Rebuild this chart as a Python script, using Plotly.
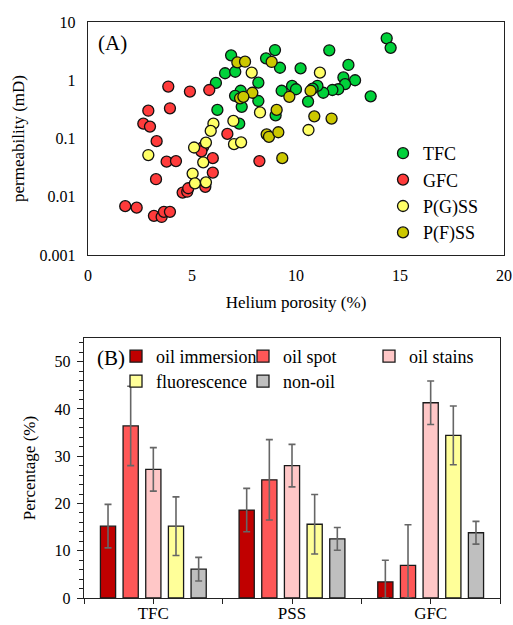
import plotly.graph_objects as go

# ---------------- Panel A data ----------------
tfc_x = [14.36, 14.55, 6.88, 8.99, 8.56, 9.23, 10.22, 11.6, 12.52, 12.84, 12.28, 12.36, 12.03, 11.75,
         11.31, 11.03, 10.8, 13.59, 10.58, 9.81, 10.0, 9.31, 8.19, 8.19, 9.02, 6.59, 7.08, 6.15,
         7.34, 7.07, 7.39, 6.22, 7.27]
tfc_y = [5.25, 3.6, 2.68, 3.3, 2.38, 1.64, 1.6, 3.27, 1.83, 1.0, 1.12, 0.86, 0.70, 0.68,
         0.61, 0.80, 0.72, 0.53, 0.43, 0.80, 0.70, 0.66, 0.91, 0.44, 0.25, 1.32, 1.4, 0.90,
         0.66, 0.54, 0.35, 0.31, 0.18]

gfc_x = [3.86, 4.9, 5.83, 2.9, 3.94, 2.66, 2.98, 3.30, 6.7, 5.54, 5.45, 3.78, 4.23, 6.0,
         8.24, 3.27, 6.0, 4.55, 4.77, 4.82, 5.64, 1.79, 2.34, 3.17, 3.54, 3.65, 3.94]
gfc_y = [0.78, 0.64, 0.68, 0.30, 0.33, 0.18, 0.16, 0.09, 0.12, 0.072, 0.06, 0.040, 0.041, 0.046,
         0.041, 0.020, 0.026, 0.0118, 0.0122, 0.014, 0.0148, 0.0069, 0.0065, 0.0047, 0.0045,
         0.0055, 0.0055]

pgss_x = [7.87, 11.15, 8.27, 6.99, 6.03, 5.9, 5.67, 5.1, 7.02, 7.36, 10.6, 2.9, 5.54, 5.03,
          5.14, 5.67]
pgss_y = [1.35, 1.35, 0.28, 0.20, 0.18, 0.135, 0.085, 0.07, 0.08, 0.086, 0.14, 0.052, 0.039,
          0.025, 0.017, 0.0177]

pfss_x = [7.18, 7.55, 8.83, 7.9, 7.31, 7.47, 10.7, 9.68, 9.07, 10.88, 11.71, 8.59, 8.7, 9.15, 9.34]
pfss_y = [2.03, 2.08, 2.06, 0.61, 0.49, 0.52, 0.66, 0.52, 0.31, 0.24, 0.22, 0.118, 0.107,
          0.128, 0.046]

perm_tickvals = [0.001, 0.01, 0.1, 1, 10]
perm_ticktext = ["0.001", "0.01", "0.1", "1", "10"]

# ---------------- Panel B data ----------------
groups = ["TFC", "PSS", "GFC"]
oil_immersion = [15.2, 18.6, 3.4]
oil_immersion_err = [4.6, 4.6, 4.6]
oil_spot = [36.4, 25.0, 6.9]
oil_spot_err = [8.4, 8.5, 8.6]
oil_stains = [27.2, 28.0, 41.3]
oil_stains_err = [4.6, 4.5, 4.6]
fluorescence = [15.2, 15.6, 34.4]
fluorescence_err = [6.2, 6.3, 6.2]
non_oil = [6.1, 12.5, 13.8]
non_oil_err = [2.5, 2.4, 2.4]

FAM = "Liberation Serif"
W, H = 513, 625


def fnt(size):
    return dict(family=FAM, size=size, color="black")


def px_x(a, b):
    return [a / W, b / W]


def px_y(top, bottom):
    return [1 - bottom / H, 1 - top / H]


fig = go.Figure()

scatter_sets = [
    ("TFC", tfc_x, tfc_y, "#00D13A"),
    ("GFC", gfc_x, gfc_y, "#FF3B3B"),
    ("P(G)SS", pgss_x, pgss_y, "#FFFF66"),
    ("P(F)SS", pfss_x, pfss_y, "#CCC800"),
]
for name, xs, ys, col in scatter_sets:
    fig.add_trace(go.Scatter(
        x=xs, y=ys, mode="markers", name=name, legend="legend",
        marker=dict(size=11, color=col, line=dict(color="#111111", width=1.3)),
        xaxis="x", yaxis="y", cliponaxis=False,
    ))

idx = list(range(len(groups)))
# legend positions (left px, top px) per bar series
bar_sets = [
    ("oil immersion", oil_immersion, oil_immersion_err, "#C00000", "legend2", 116, 338),
    ("oil spot", oil_spot, oil_spot_err, "#FF5757", "legend3", 243, 338),
    ("oil stains", oil_stains, oil_stains_err, "#FFC7C7", "legend4", 369, 338),
    ("fluorescence", fluorescence, fluorescence_err, "#FFFF99", "legend5", 116, 363),
    ("non-oil", non_oil, non_oil_err, "#BFBFBF", "legend6", 243, 363),
]
legend_layouts = {}
for name, vals, errs, col, lg, lx, ly in bar_sets:
    minus = [min(e, v) for e, v in zip(errs, vals)]
    fig.add_trace(go.Bar(
        x=idx, y=vals, name=name, legend=lg,
        marker=dict(color=col, line=dict(color="#1a1a1a", width=1.3)),
        error_y=dict(type="data", array=errs, arrayminus=minus, color="#666666",
                     thickness=1.6, width=3.5),
        xaxis="x2", yaxis="y2",
    ))
    legend_layouts[lg] = dict(x=lx / W, y=1 - ly / H, xanchor="left", yanchor="top",
                              bgcolor="rgba(0,0,0,0)", font=fnt(18), itemwidth=30,
                              orientation="v")

fig.update_layout(
    template="none",
    width=W, height=H,
    margin=dict(l=0, r=0, t=0, b=0, autoexpand=False),
    paper_bgcolor="white", plot_bgcolor="white",
    font=fnt(15),
    barmode="group", bargap=0.183, bargroupgap=0.33,
    showlegend=True,
    xaxis=dict(domain=px_x(88, 504), range=[0, 20], dtick=5, showgrid=False, zeroline=False,
               automargin=False,
               showline=True, linecolor="#222", linewidth=1.4, mirror=True,
               ticks="", ticklabelstandoff=6, tickfont=fnt(16),
               title=dict(text="Helium porosity (%)", font=fnt(17), standoff=12),
               anchor="y"),
    yaxis=dict(domain=px_y(22, 255), type="log", range=[-3, 1], showgrid=False, zeroline=False,
               automargin=False,
               showline=True, linecolor="#222", linewidth=1.4, mirror=True,
               tickvals=perm_tickvals, ticktext=perm_ticktext, ticks="",
               ticklabelstandoff=8, tickfont=fnt(16),
               title=dict(text="permeability (mD)", font=fnt(17), standoff=10),
               anchor="x"),
    xaxis2=dict(domain=px_x(84, 500), range=[-0.5, 2.5], showgrid=False, zeroline=False,
                automargin=False,
                showline=True, linecolor="#222", linewidth=1.4, mirror=True,
                tickvals=[-0.5, 0, 0.5, 1, 1.5, 2, 2.5],
                ticktext=["", groups[0], "", groups[1], "", groups[2], ""],
                ticks="outside", ticklen=5, tickcolor="#222", tickwidth=1.3,
                ticklabelstandoff=-6,
                tickfont=fnt(17), anchor="y2"),
    yaxis2=dict(domain=px_y(338, 598), range=[0, 55], dtick=10, showgrid=False, zeroline=False,
                automargin=False,
                showline=True, linecolor="#222", linewidth=1.4, mirror=True,
                ticks="outside", ticklen=6, tickcolor="#222", tickwidth=1.3,
                minor=dict(dtick=2, ticks="outside", ticklen=4, tickcolor="#222", tickwidth=1),
                ticklabelstandoff=3, tickfont=fnt(16),
                title=dict(text="Percentage (%)", font=fnt(17), standoff=14),
                anchor="x2"),
    legend=dict(x=383 / W, y=1 - 135 / H, xanchor="left", yanchor="top",
                bgcolor="rgba(0,0,0,0)", font=fnt(18), itemwidth=30,
                tracegroupgap=0, orientation="v"),
    annotations=[
        dict(text="(A)", x=96 / W, y=1 - 43 / H, xref="paper", yref="paper",
             xanchor="left", yanchor="middle", showarrow=False, font=fnt(21)),
        dict(text="(B)", x=95 / W, y=1 - 358 / H, xref="paper", yref="paper",
             xanchor="left", yanchor="middle", showarrow=False, font=fnt(21)),
    ],
)
fig.update_layout(**legend_layouts)

fig.write_html("out.html", config={"displayModeBar": False},
               post_script="document.body.style.margin='0px';")
